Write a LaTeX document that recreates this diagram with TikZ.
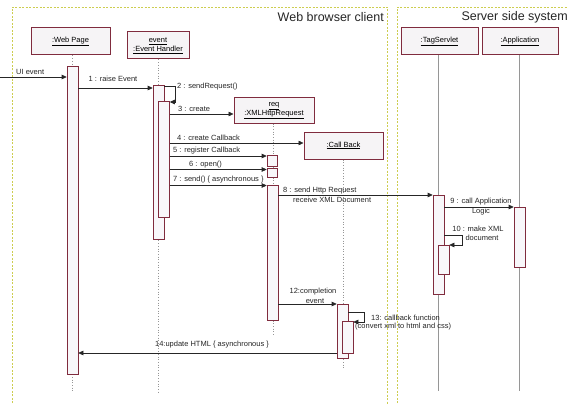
\documentclass[tikz,border=0pt]{standalone}
\usepackage{fontspec}
\setmainfont{Liberation Sans}
\usetikzlibrary{arrows.meta,calc}
\definecolor{bord}{RGB}{128,44,62}
\definecolor{boxfill}{RGB}{246,244,246}
\definecolor{barfill}{RGB}{248,247,250}
\definecolor{framecol}{RGB}{205,205,80}
\definecolor{life}{RGB}{150,150,150}
\begin{document}
\begin{tikzpicture}[x=1pt,y=-1pt,
  obj/.style={draw=bord, fill=boxfill, line width=1pt, align=center, font=\fontsize{7.5}{9}\selectfont, inner sep=0pt},
  bar/.style={draw=bord, fill=barfill, line width=0.6pt, minimum width=11pt, inner sep=0pt, anchor=north},
  msg/.style={-{Triangle[length=5pt,width=4.5pt]}, line width=0.6pt, black!85},
  lbl/.style={font=\fontsize{7.5}{9}\selectfont, inner sep=0pt, text=black!85},
  dline/.style={draw=life, dotted, line width=0.7pt},
  sline/.style={draw=life, line width=0.6pt},
  fr/.style={draw=framecol, line width=0.7pt, dash pattern=on 2pt off 1.5pt},
  title/.style={font=\fontsize{12.5}{14}\selectfont, inner sep=0pt, text=black!85}]
\useasboundingbox[fill=white] (0,0) rectangle (568,404);

% frames
\coordinate (wfbl) at (12,410);
\coordinate (wftl) at (12,7);
\coordinate (wftr) at (387,7);
\coordinate (wfbr) at (387,410);
\draw[fr] (wfbl) -- (wftl) -- (wftr) -- (wfbr);
\coordinate (sfbl) at (397,410);
\coordinate (sftl) at (397,7);
\coordinate (sftr) at (575,7);
\draw[fr] (sfbl) -- (sftl) -- (sftr);
\node[title, anchor=east] (twb) at (384,17) {Web browser client};
\node[title, anchor=east] (tss) at (568,17) {Server side system};

% objects
\node[obj, minimum width=79pt, minimum height=27pt] (wp) at (70.5,41.5) {\underline{:Web Page}};
\node[obj, minimum width=62pt, minimum height=27pt] (eh) at (158,45.5) {\underline{event}\\\underline{:Event Handler}};
\node[obj, minimum width=80pt, minimum height=25pt] (xr) at (274,110.5) {\underline{req}\\\underline{:XMLHttpRequest}};
\node[obj, minimum width=79pt, minimum height=27pt] (cb) at (343.5,145.5) {\underline{:Call Back}};
\node[obj, minimum width=77pt, minimum height=27pt] (tsv) at (439.5,41.5) {\underline{:TagServlet}};
\node[obj, minimum width=76pt, minimum height=27pt] (app) at (520,41.5) {\underline{:Application}};

% lifeline ends
\coordinate (wpend) at (72.5,392);
\coordinate (ehend) at (158,392);
\coordinate (xrend) at (273,335);
\coordinate (cbend) at (343,368);
\coordinate (tsend) at (438,391);
\coordinate (apend) at (519,391);
\draw[dline] (wpend |- wp.south) -- (wpend);
\draw[dline] (eh.south) -- (ehend);
\draw[dline] (xrend |- xr.south) -- (xrend);
\draw[dline] (cbend |- cb.south) -- (cbend);
\draw[sline] (tsend |- tsv.south) -- (tsend);
\draw[sline] (apend |- app.south) -- (apend);

% activation bars
\node[bar, minimum height=308pt] (wpbar) at (72.5,66) {};
\node[bar, minimum height=154pt] (eh1) at (158.5,85) {};
\node[bar, minimum height=116pt] (eh2) at (164,101) {};
\node[bar, minimum width=10pt, minimum height=11pt] (xr1) at (272,155) {};
\node[bar, minimum width=10pt, minimum height=9pt] (xr2) at (272,168) {};
\node[bar, minimum height=135pt] (xr3) at (272.5,185) {};
\node[bar, minimum height=99pt] (ts1) at (438.5,195) {};
\node[bar, minimum height=29pt] (ts2) at (443.5,245) {};
\node[bar, minimum height=60pt] (ap1) at (519.5,207) {};
\node[bar, minimum height=54pt] (cb1) at (342.5,304) {};
\node[bar, minimum width=11pt, minimum height=32pt] (cb2) at (347.5,321) {};

% messages
\coordinate (uistart) at (0,77);
\draw[msg] (uistart) -- (uistart -| wpbar.west);
\draw[msg] (wpbar.east |- 0,88) -- (eh1.west |- 0,88);
\coordinate (s2a) at (175,86);
\coordinate (s2b) at (175,102);
\draw[msg] (eh1.east |- s2a) -- (s2a) -- (s2b) -- (eh2.east |- s2b);
\draw[msg] (eh2.east |- 0,114) -- (xr.west |- 0,114);
\draw[msg] (eh2.east |- 0,143) -- (cb.west |- 0,143);
\draw[msg] (eh2.east |- 0,156) -- (xr1.west |- 0,156);
\draw[msg] (eh2.east |- 0,169.5) -- (xr2.west |- 0,169.5);
\draw[msg] (eh2.east |- 0,185.5) -- (xr3.west |- 0,185.5);
\draw[msg] (xr3.east |- 0,195) -- (ts1.west |- 0,195);
\draw[msg] (ts1.east |- 0,207) -- (ap1.west |- 0,207);
\coordinate (s10a) at (462,235);
\coordinate (s10b) at (462,245);
\draw[msg] (ts1.east |- s10a) -- (s10a) -- (s10b) -- (ts2.east |- s10b);
\draw[msg] (xr3.east |- 0,304) -- (cb1.west |- 0,304);
\coordinate (s13a) at (364,312);
\coordinate (s13b) at (364,322);
\draw[msg] (cb1.east |- s13a) -- (s13a) -- (s13b) -- (cb2.east |- s13b);
\draw[msg] (cb1.west |- 0,353) -- (wpbar.east |- 0,353);

% labels
\node[lbl, anchor=west] (l0) at (16,72) {UI event};
\node[lbl] (l1) at (113,79) {1 : raise Event};
\node[lbl, anchor=west] (l2) at (177,87) {2 : sendRequest()};
\node[lbl, anchor=west] (l3) at (178,109) {3 : create};
\node[lbl, anchor=west] (l4) at (177,138) {4 : create Callback};
\node[lbl, anchor=west] (l5) at (173,151) {5 : register Callback};
\node[lbl, anchor=west] (l6) at (189,165) {6 : open()};
\node[lbl, anchor=west] (l7) at (173,180) {7 : send() \{ asynchronous \}};
\node[lbl, anchor=west] (l8a) at (283,191) {8 : send Http Request};
\node[lbl, anchor=west] (l8b) at (293,200) {receive XML Document};
\node[lbl] (l9a) at (481,202) {9 : call Application};
\node[lbl] (l9b) at (481,212) {Logic};
\node[lbl] (l10a) at (478,229) {10 : make XML};
\node[lbl] (l10b) at (482,238) {document};
\node[lbl] (l12a) at (313,292) {12:completion};
\node[lbl] (l12b) at (315,301) {event};
\node[lbl, anchor=west] (l13a) at (371,318) {13: callback function};
\node[lbl, anchor=west] (l13b) at (355,327) {(convert xml to html and css)};
\node[lbl] (l14) at (212,345) {14:update HTML \{ asynchronous \}};
\end{tikzpicture}
\end{document}
